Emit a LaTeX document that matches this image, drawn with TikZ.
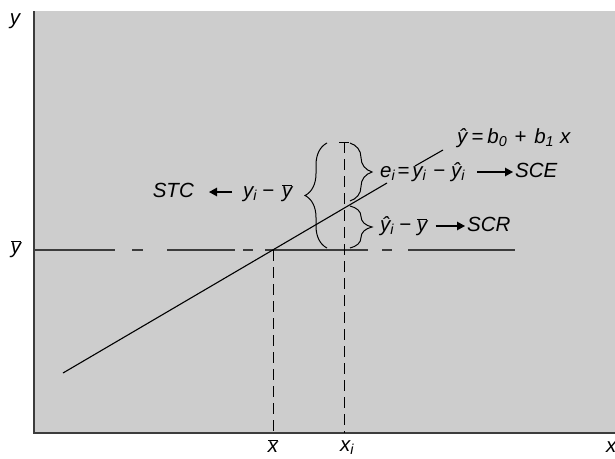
\documentclass[tikz,border=0pt]{standalone}
\usepackage{fontspec}
\setmainfont{Liberation Sans}
\usetikzlibrary{arrows.meta,decorations.pathreplacing,positioning}
\newcommand\ovl[1]{\ensuremath{\overline{\mbox{\itshape #1}}}}
\newcommand\sbi[1]{\textsubscript{\itshape #1}}
\definecolor{panel}{HTML}{CDCDCD}
\definecolor{axisc}{HTML}{3C3C3C}
\tikzset{
  lbl/.style={inner sep=0pt, font=\fontsize{20.5}{24}\selectfont\itshape, text height=15pt, text depth=5pt},
  axisline/.style={draw=axisc, line width=2pt},
  meanline/.style={draw=axisc, line width=1.8pt},
  regline/.style={draw=black, line width=1.1pt},
  guide/.style={draw=black, line width=1pt, dash pattern=on 11pt off 6pt},
  bracestyle/.style={draw=black, line width=1pt, decorate, decoration={brace, amplitude=22pt}},
  arr/.style={draw=black, line width=1.3pt, -{Triangle[length=8pt,width=8.5pt]}},
}
\begin{document}
\begin{tikzpicture}[x=1pt, y=-1pt]
\useasboundingbox (0,0) rectangle (615,458);
\fill[white] (0,0) rectangle (615,458);
\fill[panel] (34,11) rectangle (615,433);
% axes
\coordinate (o) at (34,433);
\coordinate (ytop) at (34,11);
\coordinate (xend) at (615,433);
\draw[axisline] (ytop) -- (o) -- (xend);
% mean line (irregular dash-dot)
\draw[meanline] (34,250) -- (115,250);
\draw[meanline] (132,250) -- (143,250);
\draw[meanline] (167,250) -- (235,250);
\draw[meanline] (243,250) -- (253,250);
\draw[meanline] (265,250) -- (368,250);
\draw[meanline] (382,250) -- (392,250);
\draw[meanline] (408,250) -- (515,250);
% vertical guides
\coordinate (xbtop) at (273,250);
\coordinate (xbbot) at (273,433);
\coordinate (xitop) at (344,142);
\coordinate (xibot) at (344,433);
\draw[guide] (xbtop) -- (xbbot);
\draw[guide] (xitop) -- (xibot);
\coordinate (tl) at (339,142);
\coordinate (tr) at (349,142);
\draw[line width=1pt] (tl) -- (tr);
% regression line
\coordinate (r0) at (63,373);
\coordinate (r1) at (387,183);
\coordinate (r2) at (415,166);
\coordinate (r3) at (443,150);
\draw[regline] (r0) -- (r1);
\draw[regline] (r2) -- (r3);
% braces
\coordinate (b1a) at (327,248);
\coordinate (b1b) at (327,143);
\draw[bracestyle] (b1a) -- (b1b);
\coordinate (b2a) at (350,143);
\coordinate (b2b) at (350,201);
\draw[bracestyle] (b2a) -- (b2b);
\coordinate (b3a) at (350,206);
\coordinate (b3b) at (350,248);
\draw[bracestyle] (b3a) -- (b3b);
% labels
\node[lbl, anchor=east] (stc) at (194,192) {STC};
\node[lbl, anchor=west] (tot) at (243,192) {y\sbi{i}\kern5pt−\kern8pt\ovl{y}};
\draw[arr, shorten <=11pt, shorten >=15pt] (tot.west) -- (stc.east);

\node[lbl, anchor=west] (eq1) at (380,172) {e\sbi{i}\kern2pt=\kern3pt y\sbi{i}\kern7pt−\kern6pt ŷ\sbi{i}};
\node[lbl, anchor=west] (sce) at (515,172) {SCE};
\draw[arr, shorten <=12pt, shorten >=2pt] (eq1.east) -- (sce.west);

\node[lbl, anchor=west] (eq2) at (380,226) {ŷ\sbi{i}\kern5pt−\kern6pt\ovl{y}};
\node[lbl, anchor=west] (scr) at (467,226) {SCR};
\draw[arr, shorten <=8pt, shorten >=2pt] (eq2.east) -- (scr.west);

\node[lbl, anchor=west] (model) at (457,138) {ŷ\kern4pt=\kern4pt b\sbi{0}\kern7pt+\kern8pt b\sbi{1}\kern6pt x};

\node[lbl] (ylab) at (15,19) {y};
\node[lbl] (ybar) at (16,248) {\ovl{y}};
\node[lbl] (xbar) at (273,447) {\ovl{x}};
\node[lbl] (xi) at (347,446) {x\sbi{i}};
\node[lbl, anchor=west] (xlab) at (606,447) {x};
\end{tikzpicture}
\end{document}
